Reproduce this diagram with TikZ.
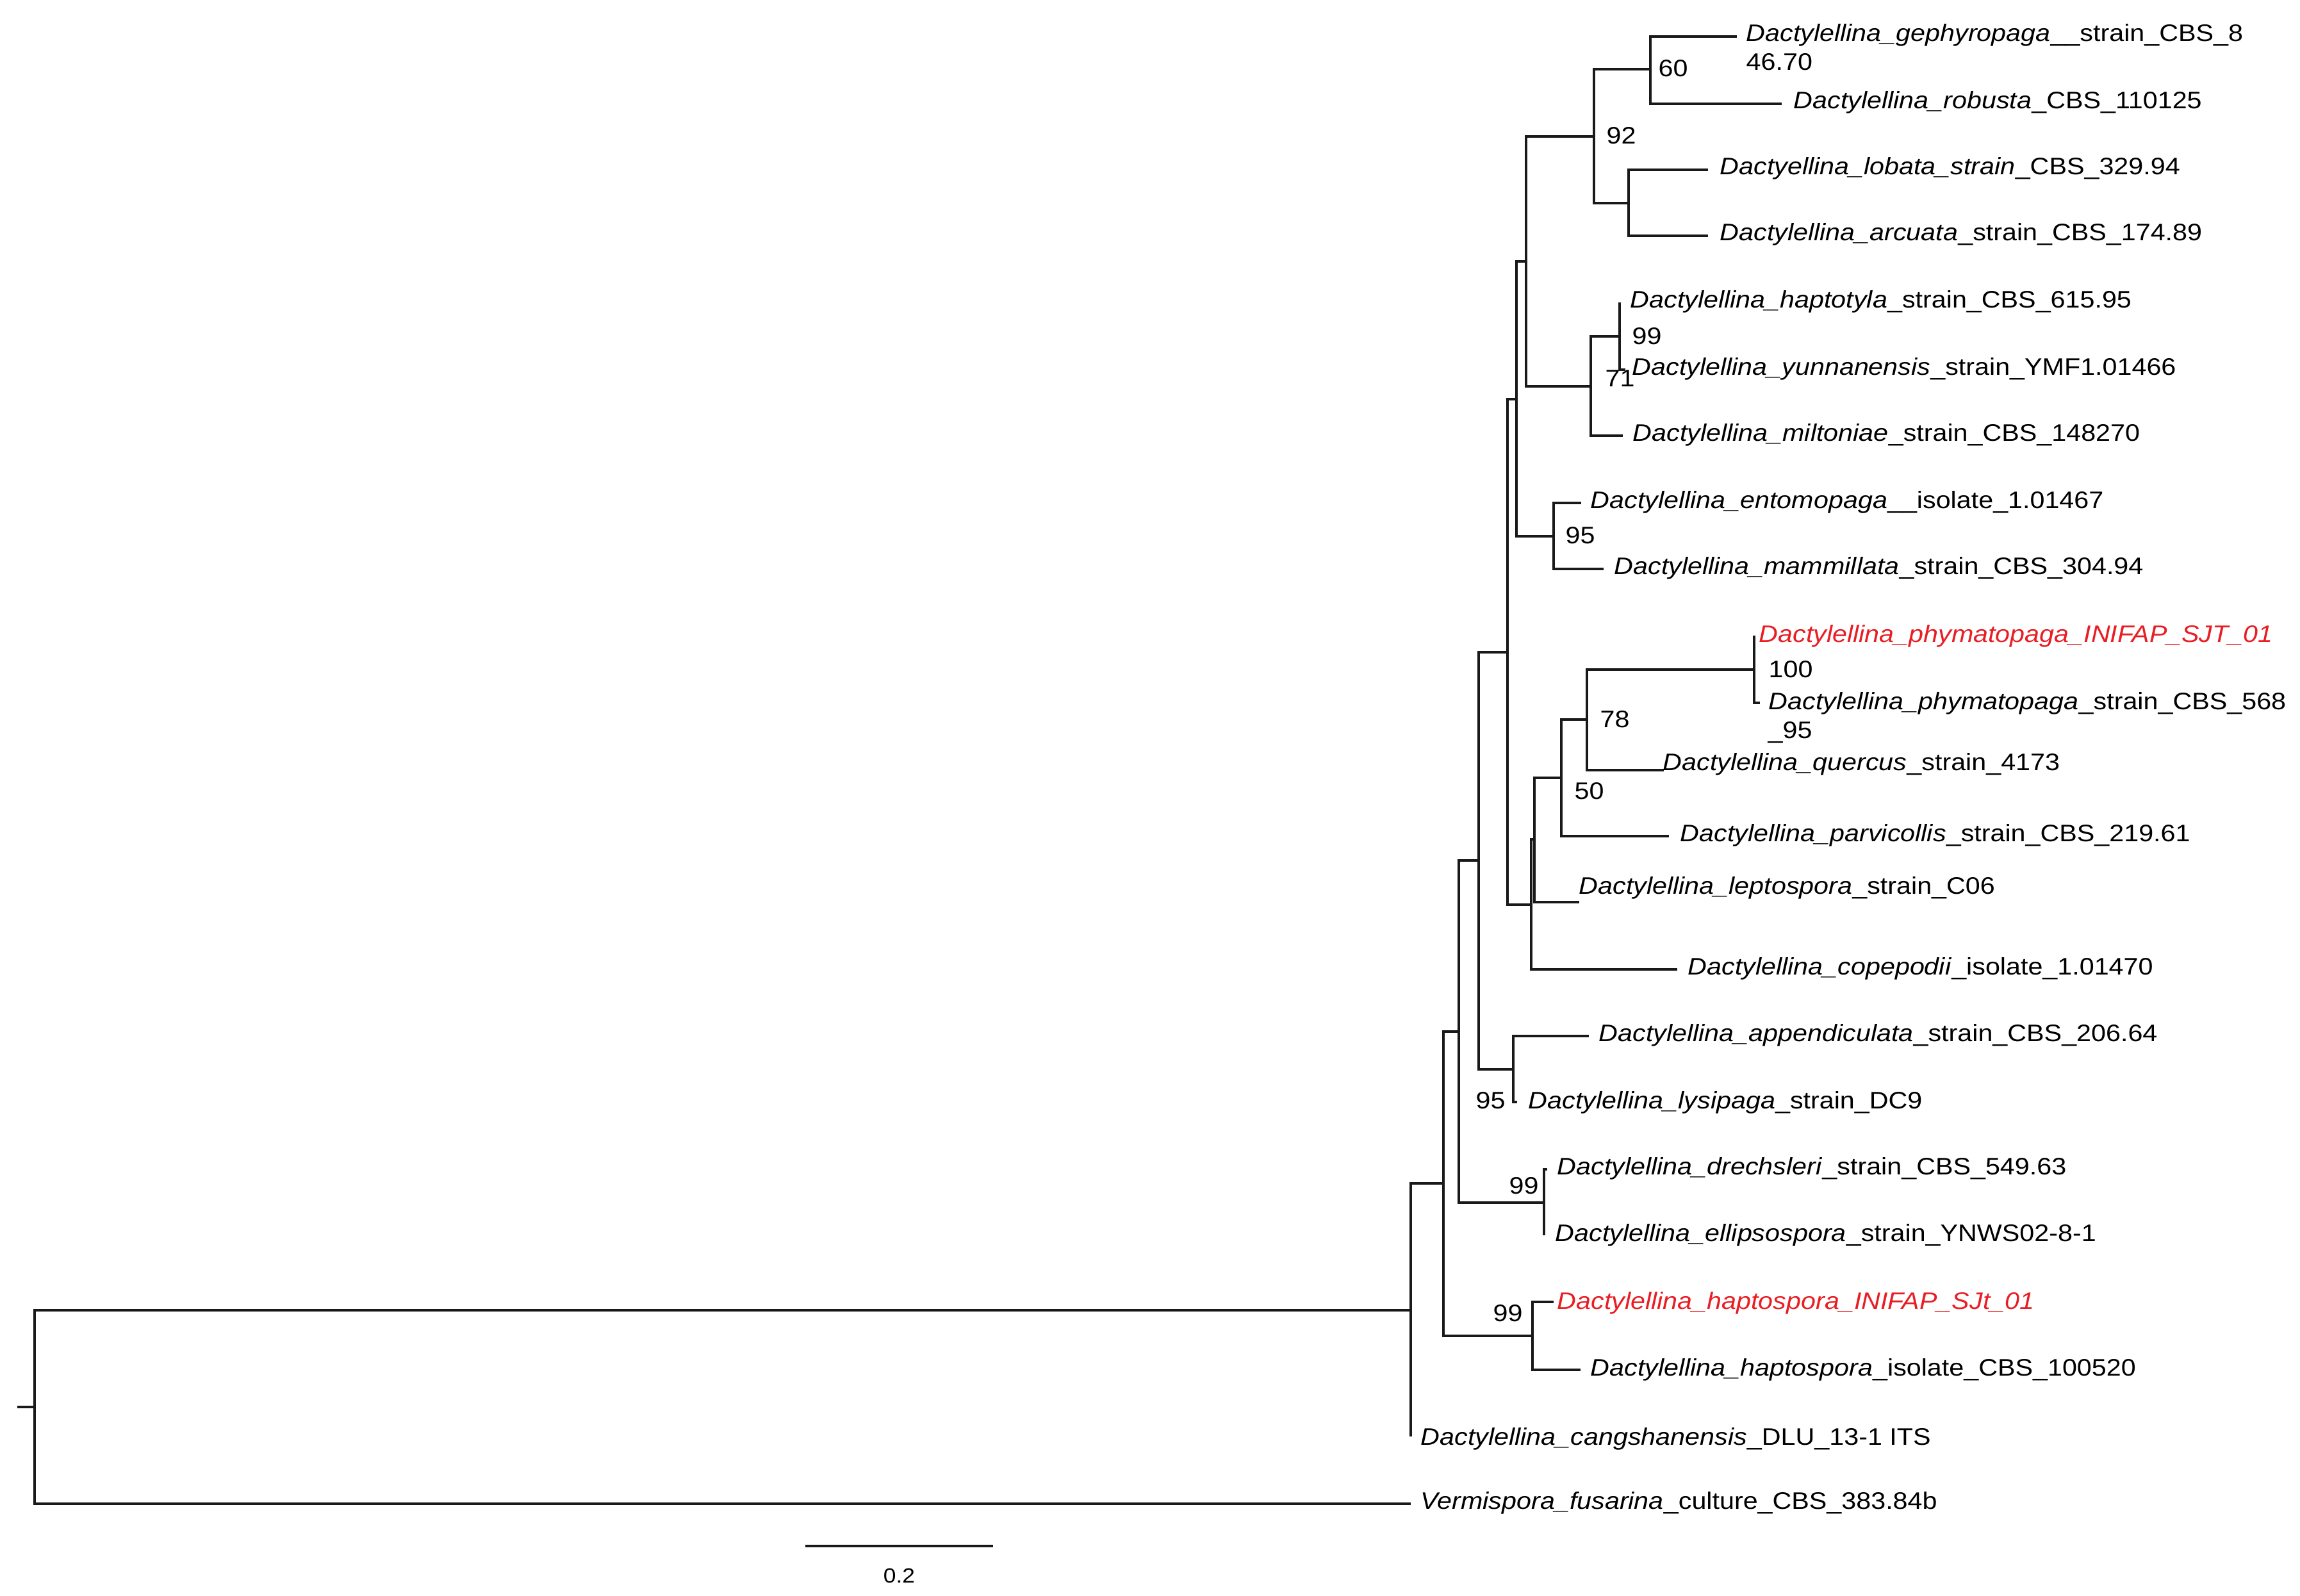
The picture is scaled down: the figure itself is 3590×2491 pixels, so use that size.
\documentclass[tikz,border=0pt]{standalone}
\usepackage{fontspec}
\setmainfont{Liberation Sans}[FakeStretch=1.107]
\usetikzlibrary{calc}
\definecolor{isolred}{RGB}{232,30,36}
\newcommand{\txn}[2]{\textit{#1}#2}

\begin{document}
\begin{tikzpicture}[
    x=0.01cm, y=-0.01cm,
    branch/.style={draw=black!90, line width=1.35pt},
    taxon/.style={anchor=base west, inner sep=0pt, xshift=-0.03cm, font=\fontsize{10.6}{12}\selectfont},
    ourtaxon/.style={taxon, text=isolred},
    boot/.style={anchor=base west, inner sep=0pt, font=\fontsize{10.6}{12}\selectfont},
    scalelab/.style={anchor=base, inner sep=0pt, font=\fontsize{9.1}{11}\selectfont},
    ]
    \useasboundingbox (0,0) rectangle (3590,2491);

    % tips
    \coordinate (tip1)  at (2711,57);
    \coordinate (tip2)  at (2781,162);
    \coordinate (tip3)  at (2666,265);
    \coordinate (tip4)  at (2666,368);
    \coordinate (tip5)  at (2528,472);
    \coordinate (tip6)  at (2537,577);
    \coordinate (tip7)  at (2533,680);
    \coordinate (tip8)  at (2468,785);
    \coordinate (tip9)  at (2503,888);
    \coordinate (tip10) at (2738,992);
    \coordinate (tip11) at (2747,1097);
    \coordinate (tip12) at (2597,1202);
    \coordinate (tip13) at (2605,1305);
    \coordinate (tip14) at (2465,1408);
    \coordinate (tip15) at (2618,1513);
    \coordinate (tip16) at (2480,1617);
    \coordinate (tip17) at (2368,1720);
    \coordinate (tip18) at (2415,1825);
    \coordinate (tip19) at (2410,1928);
    \coordinate (tip20) at (2425,2032);
    \coordinate (tip21) at (2467,2138);
    \coordinate (tip22) at (2202,2242);
    \coordinate (tip23) at (2202,2347);

    % internal nodes
    \coordinate (stub)  at (27,2196);
    \coordinate (root)  at (54,2196);
    \coordinate (ndY)   at (2202,2045);
    \coordinate (ndX)   at (2253,1847);
    \coordinate (ndH)   at (2392,2085);
    \coordinate (ndW)   at (2277,1610);
    \coordinate (ndDr)  at (2410,1877);
    \coordinate (ndV)   at (2308,1343);
    \coordinate (ndAp)  at (2362,1669);
    \coordinate (ndU)   at (2353,1018);
    \coordinate (ndQ)   at (2390,1412);
    \coordinate (ndR)   at (2395,1310);
    \coordinate (nd50)  at (2437,1214);
    \coordinate (nd78)  at (2477,1123);
    \coordinate (nd100) at (2738,1045);
    \coordinate (ndT)   at (2367,623);
    \coordinate (ndE)   at (2425,837);
    \coordinate (ndS)   at (2382,408);
    \coordinate (nd92)  at (2488,213);
    \coordinate (nd60)  at (2576,108);
    \coordinate (ndL)   at (2542,317);
    \coordinate (nd71)  at (2483,603);
    \coordinate (nd99)  at (2528,525);

    % upper clades
    \draw[branch] (tip1)  -| (nd60)  |- (tip2);
    \draw[branch] (tip3)  -| (ndL)   |- (tip4);
    \draw[branch] (nd60)  -| (nd92)  |- (ndL);
    \draw[branch] (tip5)  -| (nd99)  |- (tip6);
    \draw[branch] (nd99)  -| (nd71)  |- (tip7);
    \draw[branch] (nd92)  -| (ndS)   |- (nd71);
    \draw[branch] (tip8)  -| (ndE)   |- (tip9);
    \draw[branch] (ndS)   -| (ndT)   |- (ndE);
    % middle clades
    \draw[branch] (tip10) -| (nd100) |- (tip11);
    \draw[branch] (nd100) -| (nd78)  |- (tip12);
    \draw[branch] (nd78)  -| (nd50)  |- (tip13);
    \draw[branch] (nd50)  -| (ndR)   |- (tip14);
    \draw[branch] (ndR)   -| (ndQ)   |- (tip15);
    \draw[branch] (ndT)   -| (ndU)   |- (ndQ);
    % lower clades
    \draw[branch] (tip16) -| (ndAp)  |- (tip17);
    \draw[branch] (ndU)   -| (ndV)   |- (ndAp);
    \draw[branch] (tip18) -| (ndDr)  |- (tip19);
    \draw[branch] (ndV)   -| (ndW)   |- (ndDr);
    \draw[branch] (tip20) -| (ndH)   |- (tip21);
    \draw[branch] (ndW)   -| (ndX)   |- (ndH);
    \draw[branch] (ndX)   -| (ndY)   |- (tip22);
    % root and outgroup
    \draw[branch] (ndY)   -| (root)  |- (tip23);
    \draw[branch] (stub)  -- (root);

    % taxon labels
    \node[taxon] (lab1)  at ($(tip1)+(17,8)$)   {\txn{Dactylellina\_gephyropaga}{\_\_strain\_CBS\_8}};
    \node[taxon] (lab1b) at ($(tip1)+(17,53)$)  {46.70};
    \node[taxon] (lab2)  at ($(tip2)+(21,8)$)   {\txn{Dactylellina\_robusta}{\_CBS\_110125}};
    \node[taxon] (lab3)  at ($(tip3)+(21,8)$)   {\txn{Dactyellina\_lobata\_strain}{\_CBS\_329.94}};
    \node[taxon] (lab4)  at ($(tip4)+(21,8)$)   {\txn{Dactylellina\_arcuata}{\_strain\_CBS\_174.89}};
    \node[taxon] (lab5)  at ($(tip5)+(19,8)$)   {\txn{Dactylellina\_haptotyla}{\_strain\_CBS\_615.95}};
    \node[taxon] (lab6)  at ($(tip6)+(13,8)$)   {\txn{Dactylellina\_yunnanensis}{\_strain\_YMF1.01466}};
    \node[taxon] (lab7)  at ($(tip7)+(18,8)$)   {\txn{Dactylellina\_miltoniae}{\_strain\_CBS\_148270}};
    \node[taxon] (lab8)  at ($(tip8)+(17,8)$)   {\txn{Dactylellina\_entomopaga}{\_\_isolate\_1.01467}};
    \node[taxon] (lab9)  at ($(tip9)+(19,8)$)   {\txn{Dactylellina\_mammillata}{\_strain\_CBS\_304.94}};
    \node[ourtaxon] (lab10) at ($(tip10)+(10,10)$) {\txn{Dactylellina\_phymatopaga\_INIFAP\_SJT\_01}{}};
    \node[taxon] (lab11)  at ($(tip11)+(16,10)$) {\txn{Dactylellina\_phymatopaga}{\_strain\_CBS\_568}};
    \node[taxon] (lab11b) at ($(tip11)+(15,55)$) {\_95};
    \node[taxon] (lab12) at ($(tip12)+(1,0)$)   {\txn{Dactylellina\_quercus}{\_strain\_4173}};
    \node[taxon] (lab13) at ($(tip13)+(20,8)$)  {\txn{Dactylellina\_parvicollis}{\_strain\_CBS\_219.61}};
    \node[taxon] (lab14) at ($(tip14)+(2,-13)$) {\txn{Dactylellina\_leptospora}{\_strain\_C06}};
    \node[taxon] (lab15) at ($(tip15)+(19,8)$)  {\txn{Dactylellina\_copepodii}{\_isolate\_1.01470}};
    \node[taxon] (lab16) at ($(tip16)+(18,8)$)  {\txn{Dactylellina\_appendiculata}{\_strain\_CBS\_206.64}};
    \node[taxon] (lab17) at ($(tip17)+(20,10)$) {\txn{Dactylellina\_lysipaga}{\_strain\_DC9}};
    \node[taxon] (lab18) at ($(tip18)+(18,8)$)  {\txn{Dactylellina\_drechsleri}{\_strain\_CBS\_549.63}};
    \node[taxon] (lab19) at ($(tip19)+(20,9)$)  {\txn{Dactylellina\_ellipsospora}{\_strain\_YNWS02-8-1}};
    \node[ourtaxon] (lab20) at ($(tip20)+(8,11)$) {\txn{Dactylellina\_haptospora\_INIFAP\_SJt\_01}{}};
    \node[taxon] (lab21) at ($(tip21)+(18,9)$)  {\txn{Dactylellina\_haptospora}{\_isolate\_CBS\_100520}};
    \node[taxon] (lab22) at ($(tip22)+(18,13)$) {\txn{Dactylellina\_cangshanensis}{\_DLU\_13-1 ITS}};
    \node[taxon] (lab23) at ($(tip23)+(18,8)$)  {\txn{Vermispora\_fusarina}{\_culture\_CBS\_383.84b}};

    % bootstrap values
    \node[boot] (bs60)   at ($(nd60)+(12,12)$)  {60};
    \node[boot] (bs92)   at ($(nd92)+(19,12)$)  {92};
    \node[boot] (bs99a)  at ($(nd99)+(19,12)$)  {99};
    \node[boot] (bs71)   at ($(nd71)+(22,0)$)   {71};
    \node[boot] (bs95a)  at ($(ndE)+(18,11)$)   {95};
    \node[boot] (bs100)  at ($(nd100)+(22,12)$) {100};
    \node[boot] (bs78)   at ($(nd78)+(20,12)$)  {78};
    \node[boot] (bs50)   at ($(nd50)+(20,33)$)  {50};
    \node[boot] (bs95b)  at ($(ndAp)+(-59,61)$) {95};
    \node[boot] (bs99b)  at ($(ndDr)+(-55,-14)$) {99};
    \node[boot] (bs99c)  at ($(ndH)+(-62,-23)$) {99};

    % scale bar
    \coordinate (sbl) at (1257,2413);
    \coordinate (sbr) at (1550,2413);
    \draw[branch] (sbl) -- (sbr);
    \node[scalelab] (sblab) at ($(sbl)!0.5!(sbr)+(0,57)$) {0.2};
\end{tikzpicture}
\end{document}
